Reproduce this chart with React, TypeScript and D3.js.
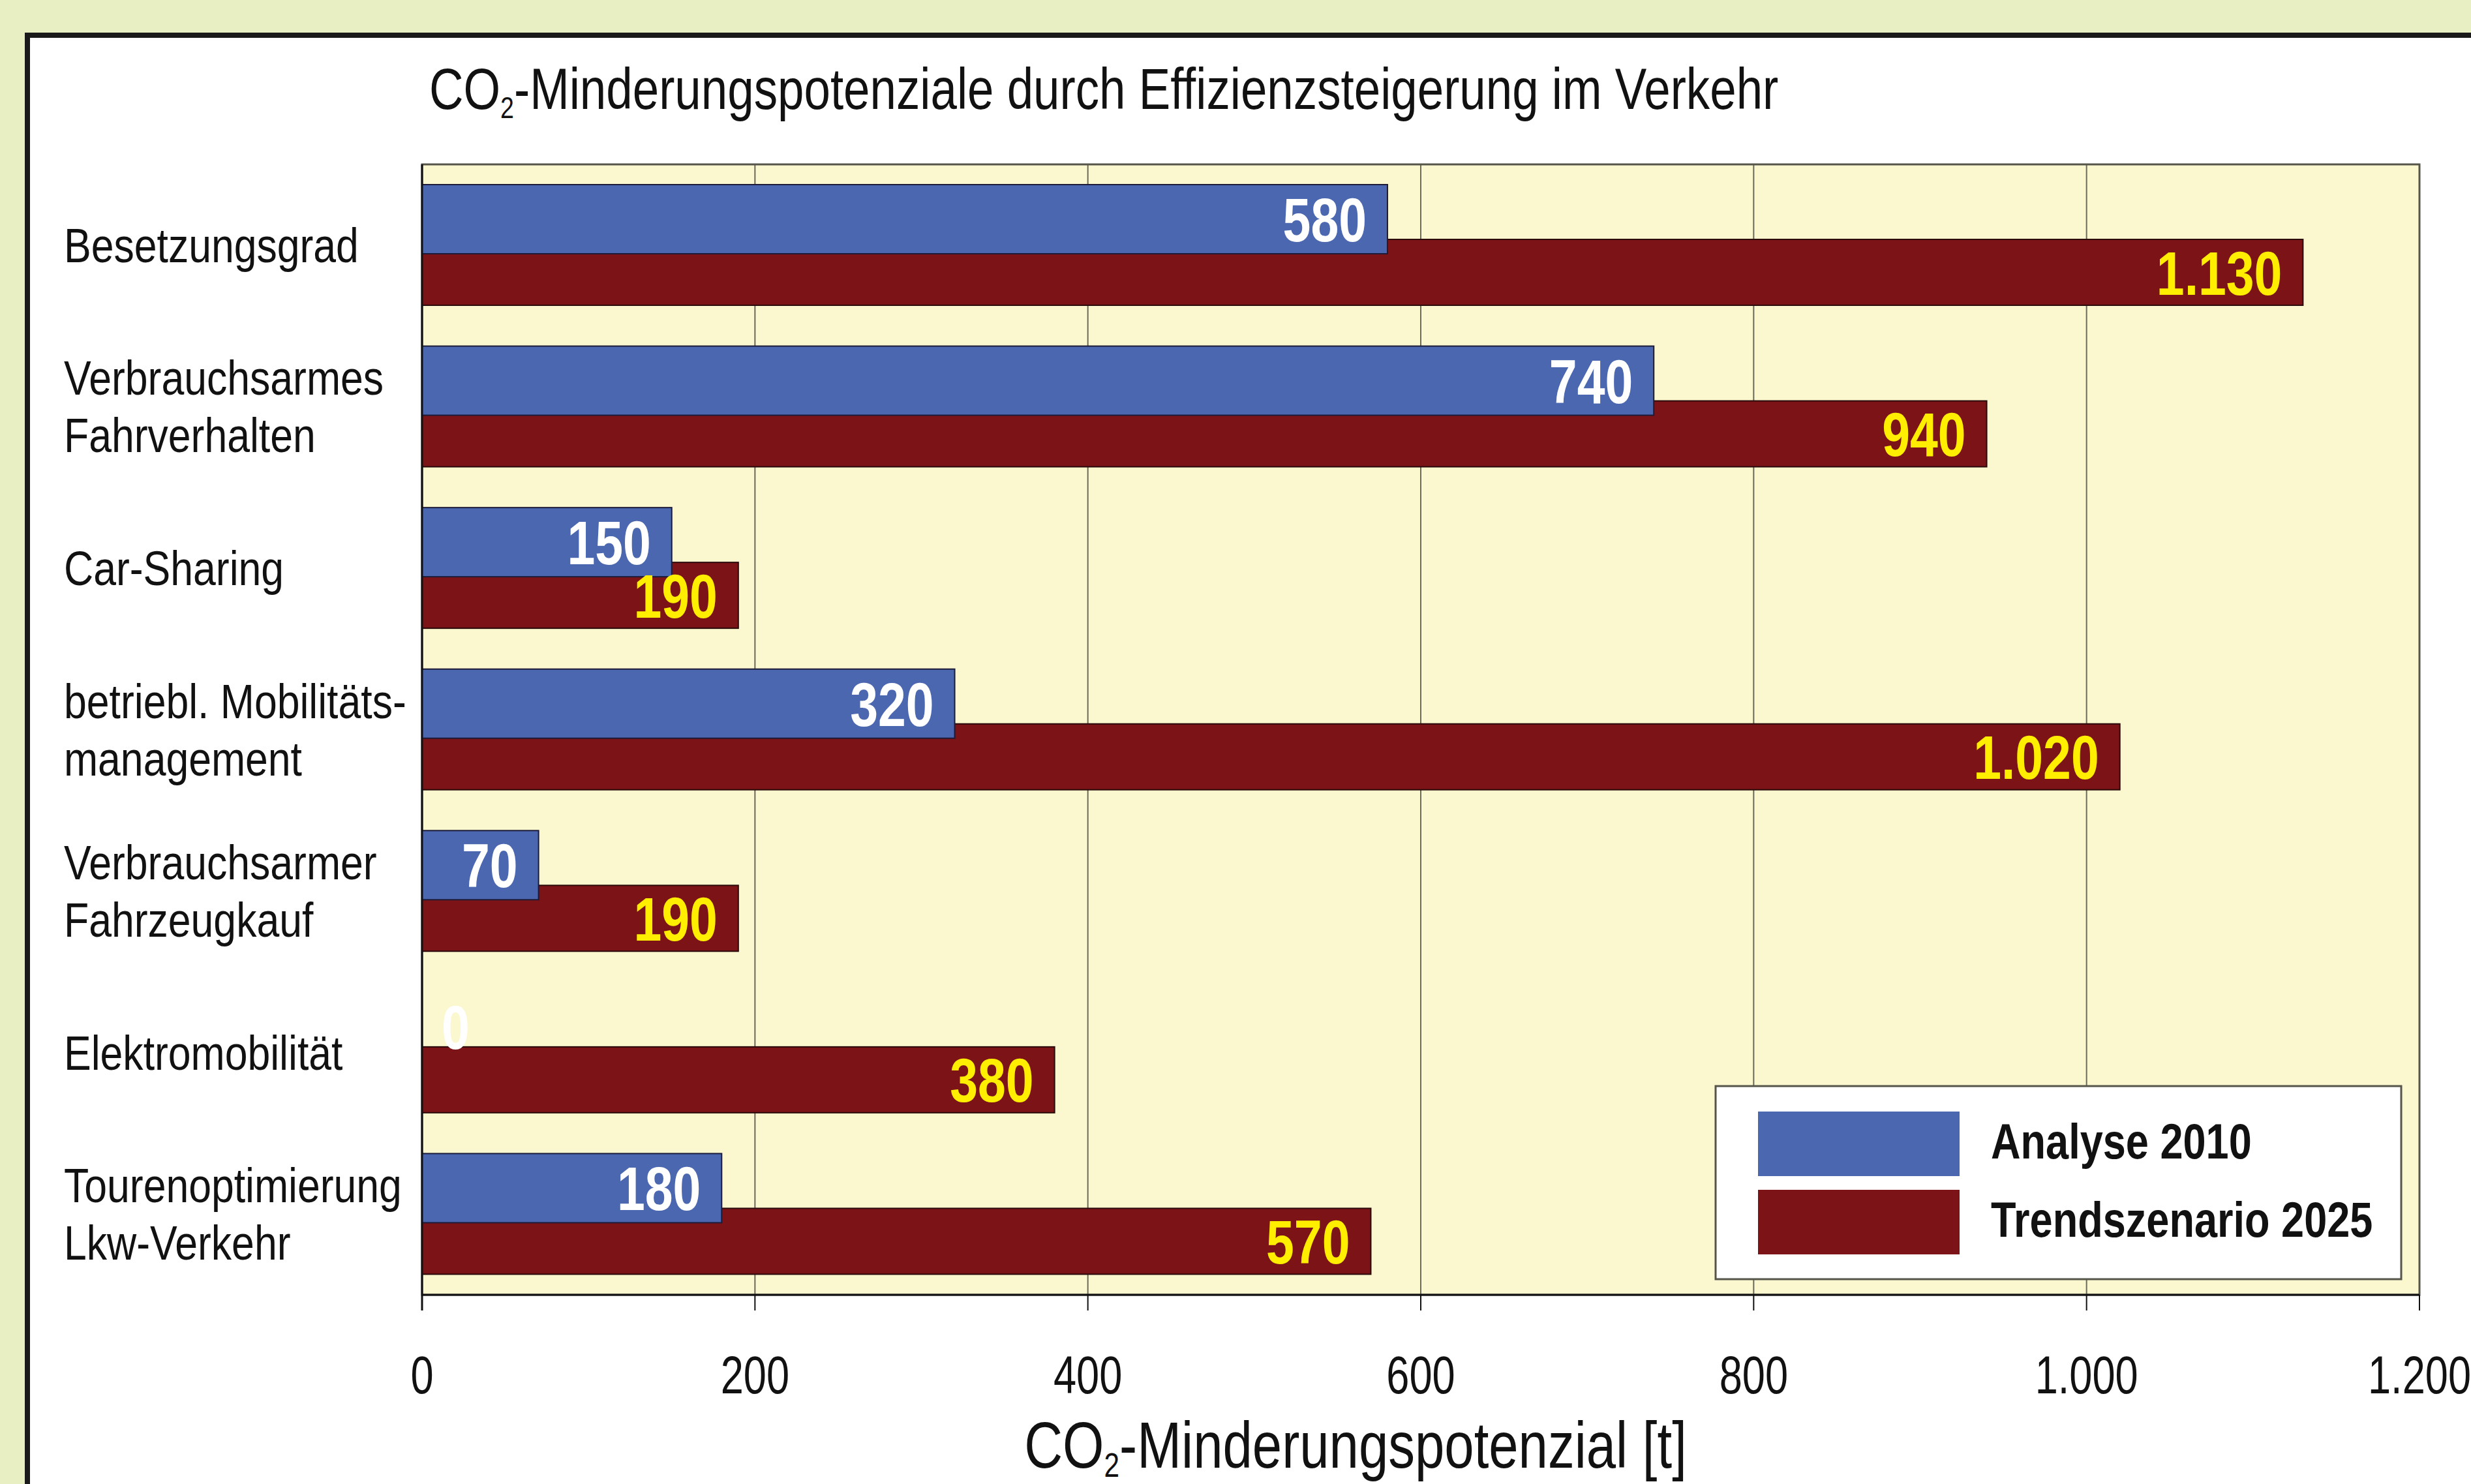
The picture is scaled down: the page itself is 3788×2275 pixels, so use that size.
import React from "react";
import * as d3 from "d3";

const categories: string[][] = [
  ["Besetzungsgrad"],
  ["Verbrauchsarmes", "Fahrverhalten"],
  ["Car-Sharing"],
  ["betriebl. Mobilitäts-", "management"],
  ["Verbrauchsarmer", "Fahrzeugkauf"],
  ["Elektromobilität"],
  ["Tourenoptimierung", "Lkw-Verkehr"],
];
const analyse2010: number[] = [580, 740, 150, 320, 70, 0, 180];
const trend2025: number[] = [1130, 940, 190, 1020, 190, 380, 570];
const xTicks: number[] = [0, 200, 400, 600, 800, 1000, 1200];
const seriesNames: string[] = ["Analyse 2010", "Trendszenario 2025"];

const W = 3788;
const H = 2275;
const FONT = "'Liberation Sans', Arial, Helvetica, sans-serif";
const BLUE = "#4a67b0";
const RED = "#7c1317";
const YELLOW = "#ffee00";

const de = d3.formatLocale({ decimal: ",", thousands: ".", grouping: [3], currency: ["", " €"] });
const fmt = de.format(",d");

type NTProps = {
  x: number; y: number; sx?: number; anchor?: string; size: number;
  weight?: string | number; fill?: string; children: React.ReactNode;
};
function NText({ x, y, sx = 0.84, anchor = "start", size, weight = "normal", fill = "#111", children }: NTProps) {
  return (
    <text
      transform={`translate(${x},${y}) scale(${sx},1)`}
      textAnchor={anchor as any}
      fontSize={size}
      fontWeight={weight as any}
      fill={fill}
      fontFamily={FONT}
    >
      {children}
    </text>
  );
}

export default function App() {
  const plot = { left: 647, right: 3709, top: 252, bottom: 1985 };
  const x = d3.scaleLinear().domain([0, 1200]).range([plot.left, plot.right]);
  const y = d3
    .scaleBand<number>()
    .domain(d3.range(categories.length))
    .range([plot.top, plot.bottom])
    .padding(0);
  const bw = y.bandwidth();
  const blueOff = 31, blueH = 106;
  const redOff = 115, redH = 101;
  const labelSize = 95;
  const inset = 32;

  const valueLabel = (v: number, y0: number, h: number, color: string, key: string) => {
    const end = x(v);
    const cy = y0 + h / 2 + labelSize * 0.358;
    const inside = end - x(0) > 90;
    return (
      <NText
        key={key}
        x={inside ? end - inset : end + 30}
        y={cy}
        sx={0.81}
        anchor={inside ? "end" : "start"}
        size={labelSize}
        weight="bold"
        fill={color}
      >
        {fmt(v)}
      </NText>
    );
  };

  return (
    <svg
      width={W}
      height={H}
      viewBox={`0 0 ${W} ${H}`}
      style={{ position: "absolute", left: 0, top: 0, display: "block" }}
    >
      <rect x={0} y={0} width={W} height={H} fill="#e8f0c3" />
      <rect x={42} y={54} width={W + 100} height={H + 100} fill="#ffffff" stroke="#1a1a1a" strokeWidth={8} />

      {/* Title */}
      <NText x={658} y={167} size={89} sx={0.817}>
        CO<tspan fontSize={46} dy={14}>2</tspan><tspan dy={-14}>-Minderungspotenziale durch Effizienzsteigerung im Verkehr</tspan>
      </NText>

      {/* Plot area */}
      <rect x={plot.left} y={plot.top} width={plot.right - plot.left} height={plot.bottom - plot.top} fill="#fbf7cf" />
      {xTicks.slice(1, -1).map((t) => (
        <line key={"g" + t} x1={x(t)} x2={x(t)} y1={plot.top} y2={plot.bottom} stroke="#6b6b5a" strokeWidth={2} />
      ))}
      <rect x={plot.left} y={plot.top} width={plot.right - plot.left} height={plot.bottom - plot.top} fill="none" stroke="#55554a" strokeWidth={3} />

      {/* Bars */}
      {categories.map((c, i) => {
        const b = y(i) as number;
        return (
          <g key={"bars" + i}>
            <rect x={x(0)} y={b + redOff} width={x(trend2025[i]) - x(0)} height={redH} fill={RED} stroke="#2a0a0a" strokeWidth={2} />
            {analyse2010[i] > 0 && (
              <rect x={x(0)} y={b + blueOff} width={x(analyse2010[i]) - x(0)} height={blueH} fill={BLUE} stroke="#1c1c3a" strokeWidth={2} />
            )}
          </g>
        );
      })}
      {categories.map((c, i) => {
        const b = y(i) as number;
        return (
          <g key={"lbl" + i}>
            {valueLabel(analyse2010[i], b + blueOff, blueH, "#ffffff", "a" + i)}
            {valueLabel(trend2025[i], b + redOff, redH, YELLOW, "t" + i)}
          </g>
        );
      })}

      {/* Axis lines */}
      <line x1={plot.left} x2={plot.left} y1={plot.top} y2={plot.bottom + 24} stroke="#111" strokeWidth={3} />
      <line x1={plot.left} x2={plot.right} y1={plot.bottom} y2={plot.bottom} stroke="#111" strokeWidth={3} />
      {xTicks.map((t) => (
        <g key={"t" + t}>
          <line x1={x(t)} x2={x(t)} y1={plot.bottom} y2={plot.bottom + 24} stroke="#111" strokeWidth={2} />
          <NText x={x(t)} y={2136} size={82} sx={0.77} anchor="middle">
            {fmt(t)}
          </NText>
        </g>
      ))}

      {/* Axis title */}
      <NText x={2078} y={2250} size={100} sx={0.815} anchor="middle">
        CO<tspan fontSize={52} dy={14}>2</tspan><tspan dy={-14}>-Minderungspotenzial [t]</tspan>
      </NText>

      {/* Category labels */}
      {categories.map((lines, i) => {
        const cy = (y(i) as number) + bw / 2;
        const lh = 88;
        const start = cy - ((lines.length - 1) * lh) / 2;
        return lines.map((ln, j) => (
          <NText key={"c" + i + "_" + j} x={98} y={start + j * lh + 26} size={74} sx={0.845}>
            {ln}
          </NText>
        ));
      })}

      {/* Legend */}
      <rect x={2630} y={1665} width={1051} height={296} fill="#ffffff" stroke="#55554a" strokeWidth={3} />
      {seriesNames.map((s, i) => (
        <g key={"leg" + i}>
          <rect x={2695} y={1704 + i * 120} width={309} height={99} fill={i === 0 ? BLUE : RED} />
          <NText x={3052} y={1776 + i * 120} size={76} sx={0.83} weight="bold">
            {s}
          </NText>
        </g>
      ))}
    </svg>
  );
}
